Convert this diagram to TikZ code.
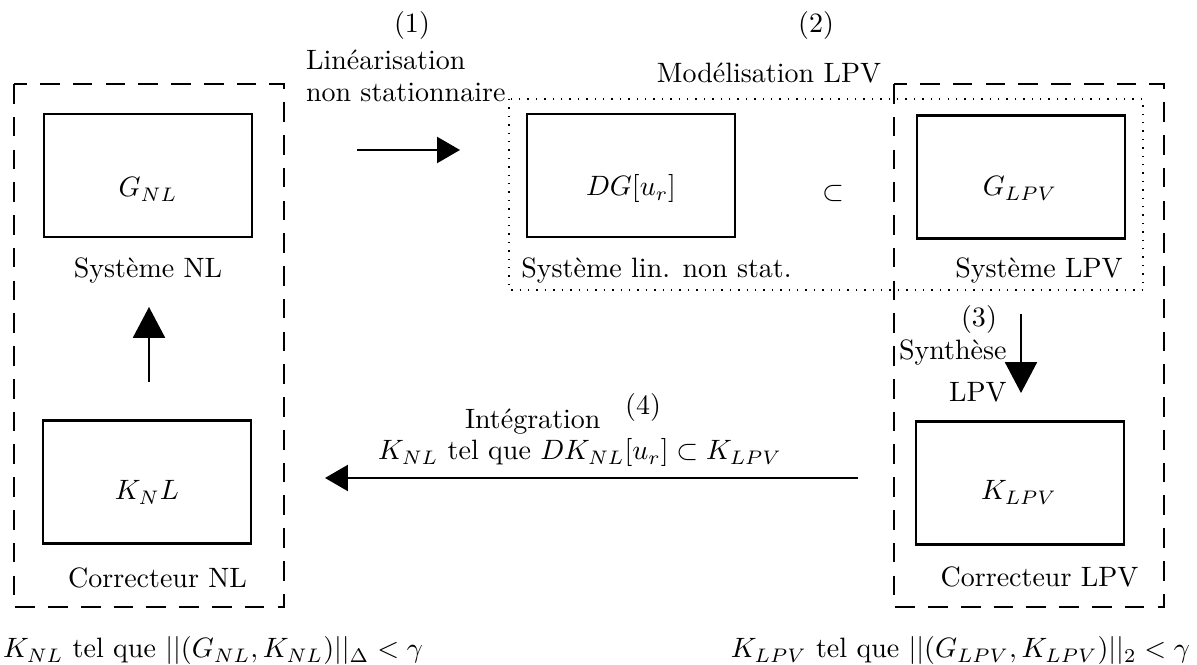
\documentclass[tikz,border=0pt]{standalone}
\usetikzlibrary{arrows.meta}
\begin{document}
\begin{tikzpicture}[x=0.357pt,y=-0.357pt,
  blk/.style={draw,line width=0.75pt,inner sep=0pt,outer sep=0pt,minimum width=74.3pt,minimum height=43.9pt},
  frame/.style={line width=0.75pt,dash pattern=on 7pt off 4.7pt},
  dotframe/.style={line width=0.5pt,dash pattern=on 0.5pt off 2.5pt},
  harrow/.style={line width=0.75pt,-{Triangle[length=8.2pt,width=9.3pt]}},
  varrow/.style={line width=0.75pt,-{Triangle[length=11pt,width=11.4pt]}},
  txt/.style={inner sep=0pt,outer sep=0pt}]
\useasboundingbox (0,0) rectangle (1197,665);
% frames
\draw[frame] (14,84) rectangle (284,607);
\draw[frame] (894,84) rectangle (1164,607);
\draw[dotframe] (509,99) rectangle (1143,290);
% boxes
\node[blk] (gnl) at (148,175.5) {};
\node[blk] (dg) at (631,175.5) {};
\node[blk] (glpv) at (1021,177) {};
\node[blk] (knl) at (147,482) {};
\node[blk] (klpv) at (1020,483) {};
% box texts
\node[txt,anchor=base] (tgnl) at (148,197) {$G_{NL}$};
\node[txt,anchor=base] (tdg) at (631,196) {$DG[u_r]$};
\node[txt,anchor=base] (tglpv) at (1020,196) {$G_{LPV}$};
\node[txt,anchor=base] (tknl) at (147,500) {$K_NL$};
\node[txt,anchor=base] (tklpv) at (1019,500) {$K_{LPV}$};
% captions
\node[txt,anchor=base] (c1) at (148,278) {Système NL};
\node[txt,anchor=base] (c2) at (656.5,278) {Système lin. non stat.};
\node[txt,anchor=base] (c3) at (1039,278) {Système LPV};
\node[txt,anchor=base] (c4) at (157.5,588) {Correcteur NL};
\node[txt,anchor=base] (c5) at (1039.5,587) {Correcteur LPV};
\node[txt] (subs) at (833,194) {$\subset$};
% step labels
\node[txt] (n1) at (412,26) {(1)};
\node[txt,anchor=base west] (l1a) at (306,70) {Linéarisation};
\node[txt,anchor=base west] (l1b) at (306,102) {non stationnaire};
\node[txt] (n2) at (816,26) {(2)};
\node[txt,anchor=base] (l2) at (769,83) {Modélisation LPV};
\node[txt] (n3) at (979,320) {(3)};
\node[txt,anchor=base west] (l3a) at (899,360) {Synthèse};
\node[txt,anchor=base west] (l3b) at (949,402) {LPV};
\node[txt,anchor=base west] (l4a) at (465,429) {Intégration};
\node[txt] (n4) at (643,408) {(4)};
\node[txt,anchor=base west] (l4b) at (378,460) {$K_{NL}$ tel que $DK_{NL}[u_r]\subset K_{LPV}$};
% bottom conditions
\node[txt,anchor=base west] (condl) at (3,658) {$K_{NL}$ tel que $||(G_{NL},K_{NL})||_\Delta<\gamma$};
\node[txt,anchor=base east] (condr) at (1190,658) {$K_{LPV}$ tel que $||(G_{LPV},K_{LPV})||_2<\gamma$};
% arrows
\coordinate (a1s) at (357,150); \coordinate (a1e) at (460,150);
\coordinate (a2s) at (149,382); \coordinate (a2e) at (149,307);
\coordinate (a3s) at (1021,314); \coordinate (a3e) at (1021,393);
\coordinate (a4s) at (858,478); \coordinate (a4e) at (325,478);
\draw[harrow] (a1s) -- (a1e);
\draw[varrow] (a2s) -- (a2e);
\draw[varrow] (a3s) -- (a3e);
\draw[harrow] (a4s) -- (a4e);
\end{tikzpicture}
\end{document}
